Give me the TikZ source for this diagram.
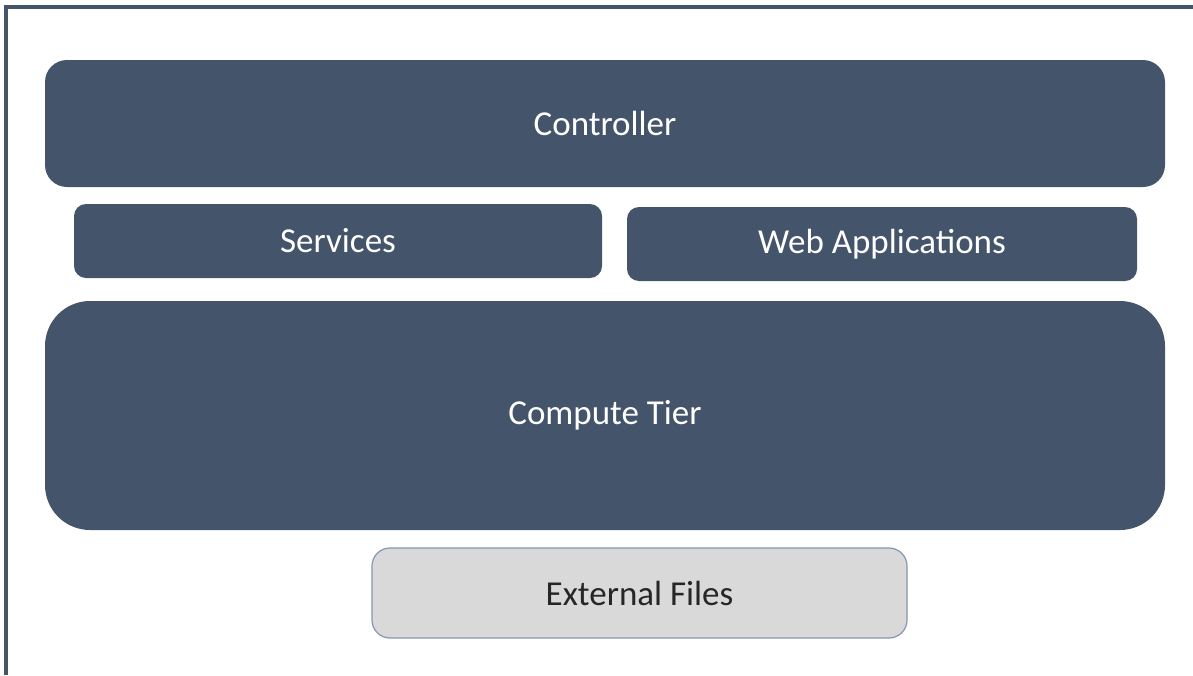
\documentclass[tikz,border=0pt]{standalone}
\usepackage{fontspec}
\setmainfont{Carlito}
\definecolor{slate}{HTML}{44546A}
\definecolor{lightfill}{HTML}{D9D9D9}
\definecolor{greyedge}{HTML}{8497B0}

\begin{document}
\begin{tikzpicture}[x=1pt, y=-1pt,
  every node/.style={rectangle, inner sep=0pt, font=\fontsize{35}{42}\selectfont},
  tier/.style={fill=slate, text=white},
  filebox/.style={fill=lightfill, draw=greyedge, line width=1.2pt, text=black!85}]

  \useasboundingbox (0,0) rectangle (1193,675);

  % Frame
  \draw[slate, line width=4pt] (5.5,675) -- (5.5,7) -- (1193,7);

  % Top tier
  \node[tier, rounded corners=22pt, minimum width=1120pt, minimum height=127pt] (controller) at (605,123.5) {Controller};

  % Middle tier
  \node[tier, rounded corners=12pt, minimum width=528pt, minimum height=74pt] (services) at (338,241) {Services};
  \node[tier, rounded corners=12pt, minimum width=510pt, minimum height=74pt] (webapps) at (882,244) {Web Applications};

  % Compute
  \node[tier, rounded corners=45pt, minimum width=1120pt, minimum height=229pt] (compute) at (605,415.5) {Compute Tier};

  % Storage
  \node[filebox, rounded corners=18pt, minimum width=535pt, minimum height=90pt] (files) at (639.5,593) {External Files};
\end{tikzpicture}
\end{document}
